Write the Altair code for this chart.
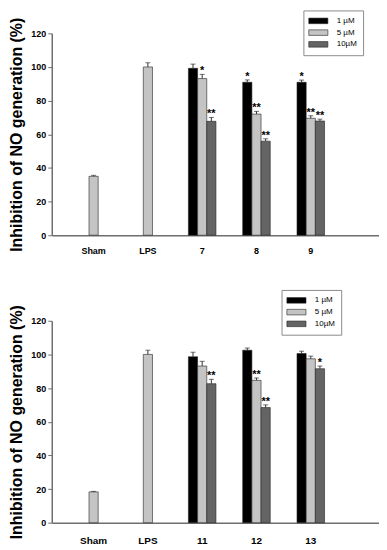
import altair as alt
import pandas as pd

# ---------------- data ----------------
series = ["1 µM", "5 µM", "10µM"]
series_colors = ["#000000", "#c4c4c4", "#646464"]
axis_title = "Inhibition of NO generation (%)"
y_ticks = [0, 20, 40, 60, 80, 100, 120]

controls = ["Sham", "LPS"]

# top panel
top_groups = ["7", "8", "9"]
top_control_values = [35.0, 100.0]
top_control_errors = [0.6, 2.5]
top_1uM = [99.2, 90.9, 90.9]
top_5uM = [93.1, 72.0, 69.5]
top_10uM = [67.7, 55.9, 67.9]
top_1uM_err = [2.5, 1.4, 1.3]
top_5uM_err = [2.5, 1.6, 1.5]
top_10uM_err = [2.3, 1.4, 1.1]
top_1uM_sig = ["", "*", "*"]
top_5uM_sig = ["*", "**", "**"]
top_10uM_sig = ["**", "**", "**"]

# bottom panel
bot_groups = ["11", "12", "13"]
bot_control_values = [18.3, 100.0]
bot_control_errors = [0.3, 2.5]
bot_1uM = [98.6, 102.5, 100.5]
bot_5uM = [93.1, 84.6, 97.4]
bot_10uM = [82.6, 68.4, 91.5]
bot_1uM_err = [2.7, 1.3, 1.4]
bot_5uM_err = [2.8, 1.4, 1.6]
bot_10uM_err = [2.6, 1.6, 1.6]
bot_1uM_sig = ["", "", ""]
bot_5uM_sig = ["", "**", ""]
bot_10uM_sig = ["**", "**", "*"]


def build(ctrl_vals, ctrl_errs, groups, vals, errs, sigs):
    rows = []
    for c, v, e in zip(controls, ctrl_vals, ctrl_errs):
        rows.append(dict(cat=c, series=series[1], value=v, top=v + e, sig=""))
    for s, vs, es, ss in zip(series, vals, errs, sigs):
        for g, v, e, sg in zip(groups, vs, es, ss):
            rows.append(dict(cat=g, series=s, value=v, top=v + e, sig=sg))
    return pd.DataFrame(rows)


top_df = build(top_control_values, top_control_errors, top_groups,
               [top_1uM, top_5uM, top_10uM],
               [top_1uM_err, top_5uM_err, top_10uM_err],
               [top_1uM_sig, top_5uM_sig, top_10uM_sig])
bot_df = build(bot_control_values, bot_control_errors, bot_groups,
               [bot_1uM, bot_5uM, bot_10uM],
               [bot_1uM_err, bot_5uM_err, bot_10uM_err],
               [bot_1uM_sig, bot_5uM_sig, bot_10uM_sig])

FONT = "Liberation Sans"
AXIS_GREY = "#6e6e6e"


def panel(df, groups, lx, ly, lpad, lsize):
    cats = controls + groups
    x = alt.X("cat:N", sort=cats,
              scale=alt.Scale(domain=cats, paddingInner=0.493, paddingOuter=0.76, align=0.34),
              axis=alt.Axis(title=None, labelAngle=0, ticks=False, tickSize=0,
                            labelPadding=lpad, labelFont=FONT, labelFontWeight="bold",
                            labelFontSize=lsize, labelColor="black",
                            domainColor=AXIS_GREY, domainWidth=1.5))
    xo = alt.XOffset("series:N", scale=alt.Scale(domain=series, paddingInner=0, paddingOuter=0))
    yscale = alt.Scale(domain=[0, 120], nice=False)
    yaxis = alt.Axis(values=y_ticks, grid=False, tickSize=4, tickColor=AXIS_GREY,
                     domainColor=AXIS_GREY, domainWidth=1.5, labelPadding=2,
                     labelOverlap=False,
                     labelFont=FONT, labelFontSize=9, labelFontWeight="bold", labelColor="black",
                     titleFont=FONT, titleFontSize=16, titleFontWeight="bold", titleColor="black",
                     titlePadding=6)
    color = alt.Color("series:N",
                      scale=alt.Scale(domain=series, range=series_colors),
                      legend=alt.Legend(title=None, orient="none", legendX=lx, legendY=ly,
                                        direction="vertical",
                                        symbolType="M-2.4,-0.7H2.4V0.7H-2.4Z", symbolSize=64,
                                        symbolStrokeColor="#222222", symbolStrokeWidth=0.6,
                                        symbolOffset=4.5, labelOffset=14,
                                        labelFont=FONT, labelFontSize=8, labelColor="black",
                                        padding=6, rowPadding=2.8,
                                        strokeColor="#8a8a8a", fillColor="white"))
    base = alt.Chart(df)
    bars = base.mark_bar(stroke="#222222", strokeWidth=0.6).encode(
        x=x, xOffset=xo,
        y=alt.Y("value:Q", scale=yscale, axis=yaxis, title=axis_title),
        color=color)
    err = base.mark_rule(color="#333333", strokeWidth=1).encode(
        x=x, xOffset=xo,
        y=alt.Y("value:Q", scale=yscale, axis=yaxis, title=axis_title), y2="top:Q")
    cap = base.mark_tick(color="#333333", size=5, thickness=1).encode(
        x=x, xOffset=xo, y=alt.Y("top:Q", scale=yscale, axis=yaxis, title=axis_title))
    stars = base.mark_text(font=FONT, fontSize=11, fontWeight="bold", color="black",
                           baseline="alphabetic", align="center").encode(
        x=x, xOffset=xo, y=alt.Y("top:Q", scale=yscale, axis=yaxis, title=axis_title),
        text="sig:N")
    return alt.layer(bars, err, cap, stars).properties(width=329, height=203)


top = panel(top_df, top_groups, 253, -23, 11, 9)
bot = panel(bot_df, bot_groups, 231, -31, 13, 10)

chart = alt.vconcat(top, bot, spacing=34).resolve_legend(color="independent").properties(
    padding=0
).configure_view(stroke=None)

chart.save("out.html", embed_options={"renderer": "svg", "actions": False})
